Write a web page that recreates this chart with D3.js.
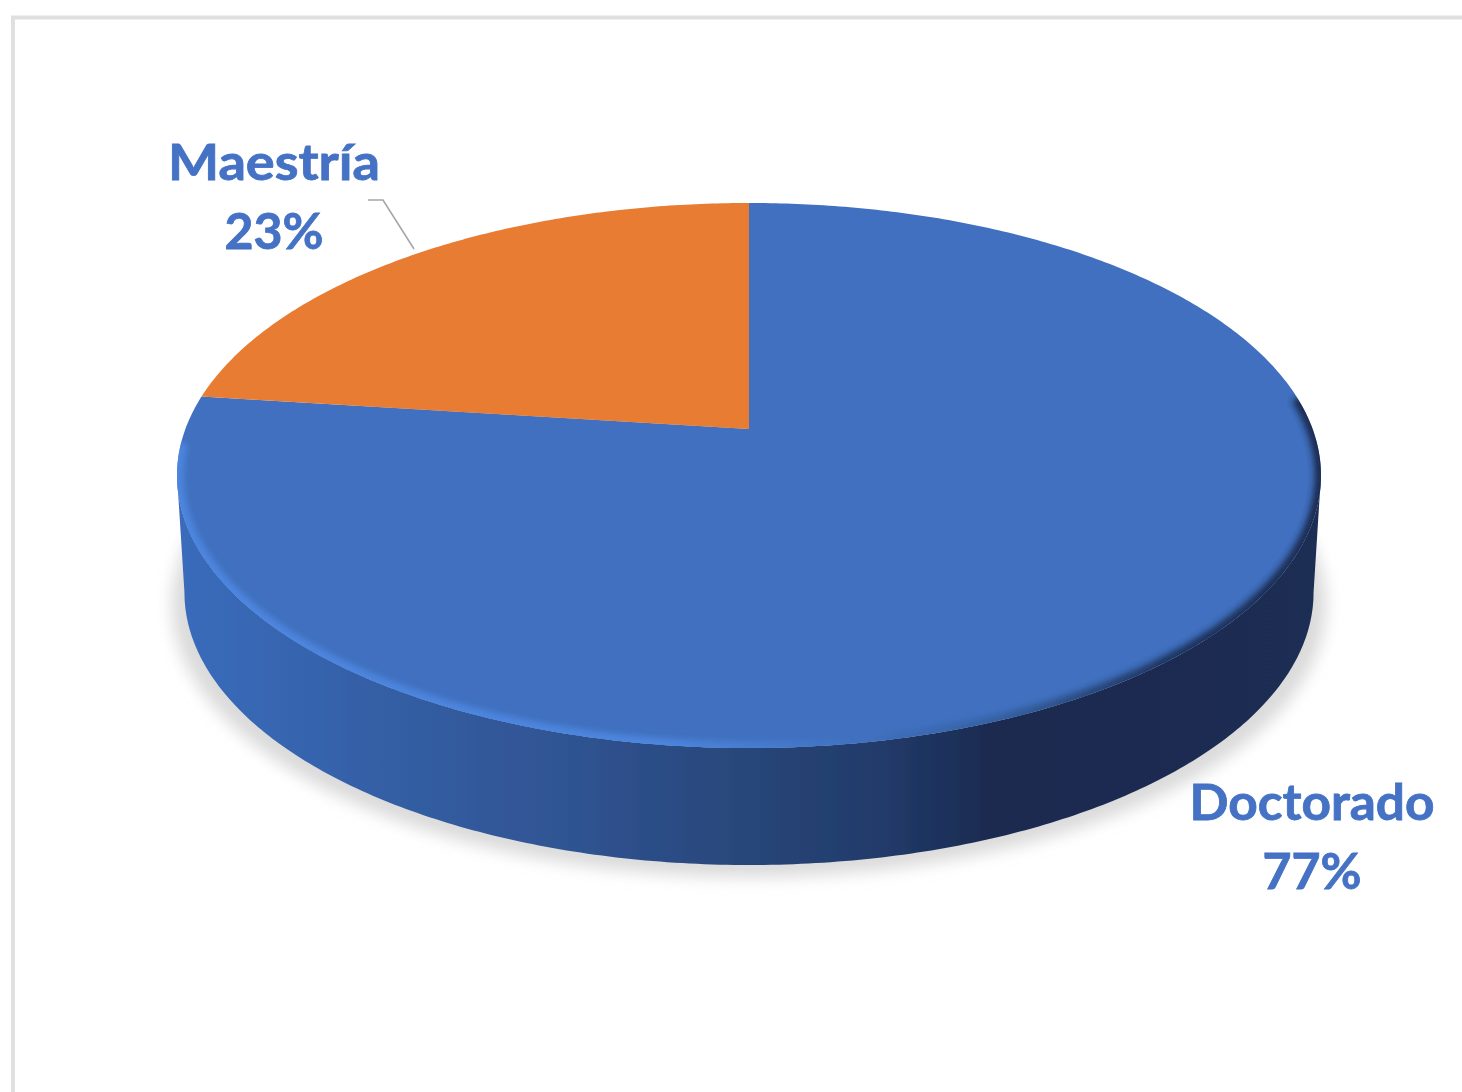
<!DOCTYPE html>
<html>
<head>
<meta charset="utf-8">
<script src="https://cdn.jsdelivr.net/npm/d3@7"></script>
<style>
  html, body { margin: 0; padding: 0; background: #fff; overflow: hidden; }
  text { font-family: Lato, "Open Sans", sans-serif; font-weight: 700; }
</style>
</head>
<body>
<div id="chart"></div>
<script>
// data
var categories = ["Doctorado", "Maestría"];
var values = [77, 23];
var sliceColors = ["#4070bf", "#e87b30"];
var labelColor = "#4472c4";

var svgWidth = 1462;
var svgHeight = 1092;

// perspective of the disc: apex of the slices sits above the middle of the ellipse
var cx = 749;
var radius = 563.6;
var persp = -0.1706;
var yScale = 191.4;
var yApex = 429;
var depth = 117;
var bottomShrink = 0.987;

function project(angle) {
  var u = Math.sin(angle);
  var v = -Math.cos(angle);
  var w = 1 + persp * v;
  return [cx + radius * u / w, (yScale * v + yApex) / w];
}

function projectBottom(angle) {
  var p = project(angle);
  return [cx + (p[0] - cx) * bottomShrink, p[1] + depth];
}

function angles(a0, a1) {
  var n = Math.max(2, Math.ceil(Math.abs(a1 - a0) * 90));
  return d3.range(n + 1).map(function(i) { return a0 + (a1 - a0) * i / n; });
}

var line = d3.line();

var svg = d3.select("#chart").append("svg")
  .attr("width", svgWidth)
  .attr("height", svgHeight)
  .style("display", "block");

var defs = svg.append("defs");

defs.append("filter").attr("id", "shadowBlur")
  .attr("x", "-10%").attr("y", "-10%").attr("width", "120%").attr("height", "120%")
  .append("feGaussianBlur").attr("stdDeviation", 8);

defs.append("filter").attr("id", "rimBlur")
  .attr("x", "-5%").attr("y", "-5%").attr("width", "110%").attr("height", "110%")
  .append("feGaussianBlur").attr("stdDeviation", 3);

// the reference is a slightly soft scan, everything gets a touch of blur
defs.append("filter").attr("id", "soft")
  .attr("filterUnits", "userSpaceOnUse")
  .attr("x", 0).attr("y", 0).attr("width", svgWidth).attr("height", svgHeight)
  .append("feGaussianBlur").attr("stdDeviation", 0.7);

// side wall shading, left to right
var sideGrad = defs.append("linearGradient").attr("id", "sideGrad")
  .attr("gradientUnits", "userSpaceOnUse")
  .attr("x1", 177).attr("x2", 1322).attr("y1", 0).attr("y2", 0);
[[0, "#3a6cbc"], [0.18, "#345fa5"], [0.35, "#2f5391"], [0.5, "#284679"],
 [0.62, "#213a69"], [0.71, "#1a2b50"], [1, "#1b2d52"]].forEach(function(s) {
  sideGrad.append("stop").attr("offset", s[0]).attr("stop-color", s[1]);
});

// bevel along the front edge of the top face
var rimGrad = defs.append("linearGradient").attr("id", "rimGrad")
  .attr("gradientUnits", "userSpaceOnUse")
  .attr("x1", 177).attr("x2", 1322).attr("y1", 0).attr("y2", 0);
[[0, "#4d86e0"], [0.42, "#4d86e0"], [0.6, "#4070bf"], [0.72, "#34609f"],
 [0.86, "#1f3560"], [1, "#1a2b50"]].forEach(function(s) {
  rimGrad.append("stop").attr("offset", s[0]).attr("stop-color", s[1]);
});

var chart = svg.append("g").attr("filter", "url(#soft)");

// frame of the chart area, runs off the right and bottom of the picture
chart.append("path")
  .attr("d", line([[13, svgHeight + 5], [13, 17.5], [svgWidth + 5, 17.5]]))
  .attr("fill", "none")
  .attr("stroke", "#e0e0e0")
  .attr("stroke-width", 4);

// widest point of the projected circle
var aSide = Math.acos(persp);
var frontAngles = angles(aSide, 2 * Math.PI - aSide);

// drop shadow
chart.append("path")
  .attr("d", line(angles(0, 2 * Math.PI).map(function(a) {
    var p = projectBottom(a);
    return [cx + (p[0] - cx) * 1.022, p[1] + 12];
  })) + "Z")
  .attr("fill", "#dadada")
  .attr("filter", "url(#shadowBlur)");

// side wall
chart.append("path")
  .attr("d", line(frontAngles.map(project).concat(frontAngles.slice().reverse().map(projectBottom))) + "Z")
  .attr("fill", "url(#sideGrad)");

// top face, one path per slice
var pie = d3.pie().sort(null).value(function(d) { return d; });
var slices = pie(values);

chart.append("g").selectAll("path")
  .data(slices)
  .enter()
  .append("path")
  .attr("d", function(d) {
    var rim = angles(d.startAngle, d.endAngle).map(project);
    return line([[cx, yApex]].concat(rim)) + "Z";
  })
  .attr("fill", function(d, i) { return sliceColors[i]; });

// bevel, kept inside the top face
defs.append("clipPath").attr("id", "faceClip").append("path")
  .attr("d", line(angles(0, 2 * Math.PI).map(project)) + "Z");

chart.append("g").attr("clip-path", "url(#faceClip)")
  .append("path")
  .attr("d", line(angles(1.45, 2 * Math.PI - aSide + 0.12).map(project)))
  .attr("fill", "none")
  .attr("stroke", "url(#rimGrad)")
  .attr("stroke-width", 13)
  .attr("filter", "url(#rimBlur)");

// labels, the names are stretched a little to the width of the original font
var labelPos = [
  { x: 1312, y: 820, width: 245 },
  { x: 274, y: 180, width: 212 }
];

var labels = chart.append("g").selectAll("g")
  .data(categories)
  .enter()
  .append("g")
  .attr("transform", function(d, i) { return "translate(" + labelPos[i].x + "," + labelPos[i].y + ")"; })
  .attr("fill", labelColor)
  .attr("stroke", labelColor)
  .attr("stroke-width", 0.8)
  .attr("text-anchor", "middle")
  .attr("font-size", 50);

labels.append("text")
  .attr("textLength", function(d, i) { return labelPos[i].width; })
  .attr("lengthAdjust", "spacingAndGlyphs")
  .text(function(d) { return d; });
labels.append("text").attr("y", 69).text(function(d, i) { return values[i] + "%"; });

// leader line for Maestría
chart.append("path")
  .attr("d", line([[368, 200], [383, 200], [414, 249]]))
  .attr("fill", "none")
  .attr("stroke", "#a6a6a6")
  .attr("stroke-width", 1.6);
</script>
</body>
</html>
